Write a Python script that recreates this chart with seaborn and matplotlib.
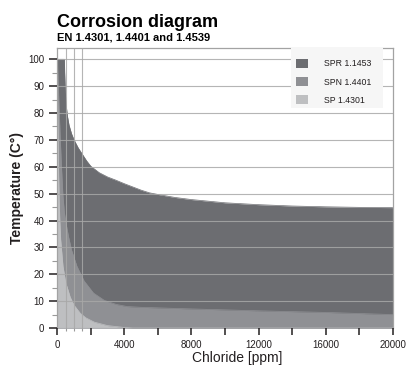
import numpy as np
import pandas as pd
import matplotlib
matplotlib.use("Agg")
import matplotlib.pyplot as plt
from matplotlib.patches import Patch, Rectangle
from matplotlib.ticker import MultipleLocator, FixedLocator, FuncFormatter
import seaborn as sns

# Steel grades (darkest = most resistant) and their fill colours
grades = ["SPR 1.1453", "SPN 1.4401", "SP 1.4301"]
colors = ["#6c6d71", "#8f9094", "#bebfc1"]

# Upper temperature limit (°C) versus chloride content (ppm) for each grade
spr_ppm = [0, 420, 440, 480, 530, 600, 700, 850, 1000, 1250, 1500, 1750, 2000,
           2500, 3000, 3500, 4000, 4500, 5000, 5500, 6000, 7000, 8000, 10000,
           12000, 14000, 16000, 18000, 20000]
spr_temp = [100, 100, 95, 88, 83, 79, 75.5, 72.3, 70, 67, 64.6, 62.2, 60.2,
            57.8, 56.2, 55, 53.7, 52.5, 51.3, 50.3, 49.7, 48.6, 47.8, 46.6,
            45.9, 45.4, 45.1, 44.9, 44.8]

spn_ppm = [0, 60, 120, 180, 250, 330, 420, 550, 670, 850, 1170, 1600, 2160,
           2800, 3500, 4150, 5000, 8000, 12000, 16000, 20000]
spn_temp = [100, 90, 80, 70, 60, 50, 43, 38, 34, 29, 23, 17.5, 13,
            10.3, 8.8, 8.0, 7.7, 7.1, 6.4, 5.8, 5.0]

sp_ppm = [0, 30, 70, 110, 150, 200, 340, 500, 770, 1000, 1370, 1700, 2200,
          3000, 4000, 4500, 20000]
sp_temp = [100, 80, 60, 48, 40, 33, 23, 17, 11.5, 8.5, 5.5, 3.8, 2.2,
           0.9, 0.2, 0, 0]

x_label_step = 4000

sns.set_theme(style="white")
plt.rcParams["font.family"] = ["Liberation Sans", "DejaVu Sans"]
ink = "#231f20"

df = pd.concat(
    [pd.DataFrame({"ppm": x, "temp": y, "grade": g})
     for g, x, y in zip(grades, [spr_ppm, spn_ppm, sp_ppm], [spr_temp, spn_temp, sp_temp])],
    ignore_index=True,
)

fig = plt.figure(figsize=(4.11, 3.65), dpi=100)
ax = fig.add_axes([57.3 / 411, 1 - 328 / 365, 335.4 / 411, 280 / 365])

# Stacked areas: each grade is usable below its curve
for g, c in zip(grades, colors):
    sub = df[df["grade"] == g]
    ax.fill_between(sub["ppm"], 0, sub["temp"], color=c, linewidth=0, zorder=1)
sns.lineplot(data=df, x="ppm", y="temp", hue="grade", hue_order=grades,
             palette=dict(zip(grades, colors)), estimator=None, legend=False,
             linewidth=0.5, ax=ax)

ax.set_xlim(0, 20000)
ax.set_ylim(0, 104.2)

ax.xaxis.set_major_locator(MultipleLocator(2000))
ax.xaxis.set_minor_locator(FixedLocator([500, 1000, 1500]))
ax.xaxis.set_major_formatter(FuncFormatter(
    lambda v, p: f"{int(round(v))}" if round(v) % x_label_step == 0 else ""))
ax.yaxis.set_major_locator(MultipleLocator(10))
ax.yaxis.set_minor_locator(MultipleLocator(5))

ax.tick_params(which="both", bottom=True, left=True, direction="out")
ax.tick_params(which="major", color=ink, width=1.1, labelsize=7, labelcolor=ink, pad=3.4)
ax.tick_params(axis="y", which="major", length=6)
ax.tick_params(axis="x", which="major", length=5)
ax.tick_params(which="minor", color="#9a9a9a", width=0.8, length=3.5)
ax.tick_params(axis="x", which="minor", length=2.5)

# Grid drawn over the areas
ax.set_axisbelow(False)
ax.yaxis.grid(True, which="major", color="#a8a8a8", linewidth=0.8, alpha=0.85)
ax.xaxis.grid(True, which="minor", color="#a8a8a8", linewidth=0.8, alpha=0.85)

for s in ax.spines.values():
    s.set_color("#a3a3a3")
    s.set_linewidth(0.9)
ax.spines["bottom"].set_visible(False)

ax.set_xlabel("Chloride [ppm]", fontsize=10, color=ink)
ax.xaxis.label.set_va("center")
ax.xaxis.set_label_coords(0.537, -0.106)
ax.set_ylabel("Temperature (C°)", fontsize=10, fontweight="bold", color=ink)
ax.yaxis.label.set_va("center")
ax.yaxis.set_label_coords(-0.1187, 0.5)

fig.text(57.3 / 411, 1 - 26.7 / 365, "Corrosion diagram", fontsize=13,
         fontweight="bold", color="black", va="baseline", ha="left")
fig.text(57.3 / 411, 1 - 40 / 365, "EN 1.4301, 1.4401 and 1.4539", fontsize=8,
         fontweight="bold", color="black", va="baseline", ha="left")

# Legend on a light panel
fig.patches.append(Rectangle((290.7 / 411, 1 - 108 / 365), 92.3 / 411, 61.3 / 365,
                             transform=fig.transFigure, facecolor="#f6f6f6",
                             edgecolor="none", zorder=4))
handles = [Patch(facecolor=c, edgecolor="none", label=g) for g, c in zip(grades, colors)]
leg = fig.legend(handles=handles, loc="upper left", bbox_to_anchor=(296 / 411, 1 - 59 / 365),
                 frameon=False, borderpad=0, borderaxespad=0, handlelength=1.32,
                 handleheight=1.2, handletextpad=1.85, labelspacing=1.0, fontsize=6.3)
for t in leg.get_texts():
    t.set_color(ink)

fig.savefig("out.png", dpi=100)
